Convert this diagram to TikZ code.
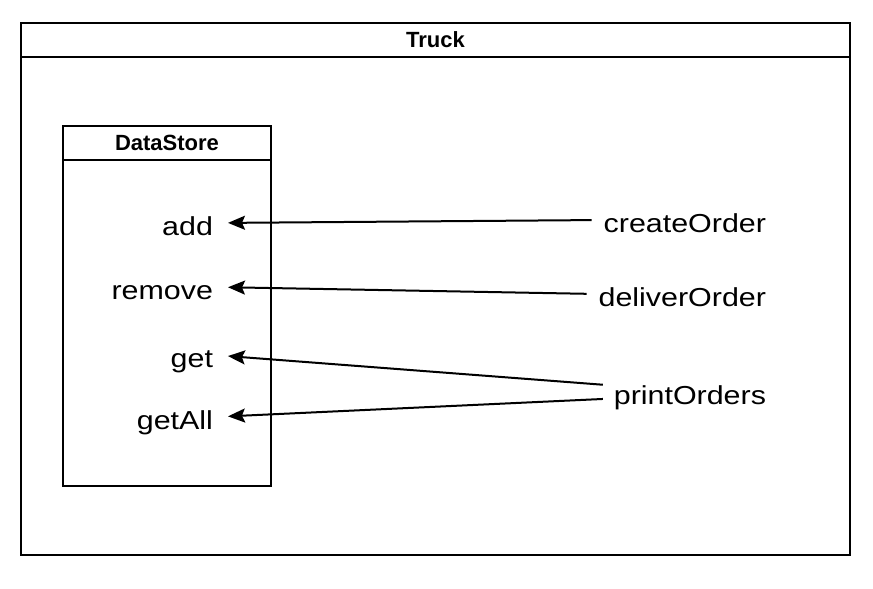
\documentclass[tikz,border=0pt]{standalone}
\usepackage{fontspec}
\setmainfont{Liberation Sans}
\newfontfamily\callfont{Liberation Sans}[FakeStretch=1.17]
\usetikzlibrary{arrows.meta, positioning}
\tikzstyle{every picture} = [x=0.5pt, y=-0.5pt, line width=1pt]
\tikzstyle{frame title} = [font=\bfseries\fontsize{11}{13}\selectfont]
\tikzstyle{call} = [font=\callfont\fontsize{13}{15}\selectfont, inner xsep=6.5pt, text height=12.5pt, text depth=0.5pt]
\tikzstyle{call arrow} = [-{Stealth[length=8.5pt, width=7pt, inset=1.5pt]}]

\begin{document}
\begin{tikzpicture}
            \useasboundingbox (0, 0) rectangle (873, 589);
            % frames
            \draw (21, 23) rectangle (850, 555);
            \draw (21, 57) -- (850, 57);
            \node (truck title) at(435.5, 40) [frame title] {Truck};
            \draw (63, 126) rectangle (271, 486);
            \draw (63, 160) -- (271, 160);
            \node (store title) at(167, 143) [frame title] {DataStore};

            \node (add) at(214, 223) [call, anchor=east, inner xsep=0pt] {add};
            \node (remove) at(214, 287) [call, anchor=east, inner xsep=0pt] {remove};
            \node (get) at(214, 355) [call, anchor=east, inner xsep=0pt] {get};
            \node (get all) at(214, 417) [call, anchor=east, inner xsep=0pt] {getAll};
            \node (create order) at(767, 220) [call, anchor=east, inner xsep=0pt] {createOrder};
            \node (deliver order) at(767, 294) [call, anchor=east, inner xsep=0pt] {deliverOrder};
            \node (print orders) at(767, 392) [call, anchor=east, inner xsep=0pt] {printOrders};

            \draw[call arrow, shorten <=11pt*0.5, shorten >=14pt*0.5] (create order.west) -- (add.east);
            \draw[call arrow, shorten <=11pt*0.5, shorten >=14pt*0.5] (deliver order.west) -- (remove.east);
            \draw[call arrow, shorten <=10pt*0.5, shorten >=14pt*0.5] ([yshift=3.25pt]print orders.west) -- (get.east);
            \draw[call arrow, shorten <=10pt*0.5, shorten >=14pt*0.5] ([yshift=-3.25pt]print orders.west) -- (get all.east);
        \end{tikzpicture}
\end{document}
